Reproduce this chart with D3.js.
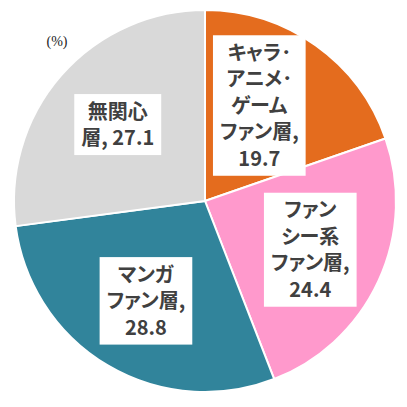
<!DOCTYPE html>
<html>
<head>
<meta charset="utf-8">
<script src="https://cdn.jsdelivr.net/npm/d3@7"></script>
<style>
  html, body { margin: 0; padding: 0; background: #fff; }
  svg { display: block; }
  .lbl { font-feature-settings: "palt" 1; }
</style>
</head>
<body>
<svg id="chart" width="407" height="407"></svg>
<script>
// ---- data ----
const categories = ["キャラ・アニメ・ゲームファン層", "ファンシー系ファン層", "マンガファン層", "無関心層"];
const values = [19.7, 24.4, 28.8, 27.1];
const colors = ["#E46C1E", "#FF99CC", "#31849B", "#D9D9D9"];
// label lines (category name wrapped as in the reference); value appended after
const labelLines = [
  ["キャラ･", "アニメ･", "ゲーム", "ファン層,"],
  ["ファン", "シー系", "ファン層,"],
  ["マンガ", "ファン層,"],
  ["無関心", "層,"]
];
const valueOnSameLine = [false, false, false, true];
const unitLabel = "(%)";

// ---- layout ----
const cx = 205, cy = 201, R = 191;
const svg = d3.select("#chart");
const g = svg.append("g").attr("transform", `translate(${cx},${cy})`);

const pie = d3.pie().sort(null).value(d => d.value);
const data = categories.map((c, i) => ({ name: c, value: values[i], i }));
const arcs = pie(data);
const arc = d3.arc().innerRadius(0).outerRadius(R);
const labelArc = d3.arc().innerRadius(116).outerRadius(116);

g.selectAll("path.slice")
  .data(arcs)
  .enter().append("path")
  .attr("class", "slice")
  .attr("d", arc)
  .attr("fill", d => colors[d.data.i])
  .attr("stroke", "#fff")
  .attr("stroke-width", 2)
  .attr("stroke-linejoin", "round");

// label nudges (layout only)
const nudge = [[-13, -1], [0, 0], [0, 0], [0, 0]];
const lineH = 26.5, fs = 20, padX = 7, padY = 4;

arcs.forEach(a => {
  const i = a.data.i;
  const [x0, y0] = labelArc.centroid(a);
  const x = x0 + nudge[i][0], y = y0 + nudge[i][1];
  const lines = labelLines[i].slice();
  if (valueOnSameLine[i]) lines[lines.length - 1] += " " + values[i].toFixed(1);
  else lines.push(values[i].toFixed(1));

  const lg = g.append("g").attr("transform", `translate(${x},${y})`);
  const rect = lg.append("rect").attr("fill", "#fff");
  const n = lines.length;
  const txt = lg.append("text")
    .attr("class", "lbl")
    .attr("text-anchor", "middle")
    .attr("font-family", "'Noto Sans CJK JP', 'Noto Sans', sans-serif")
    .attr("font-weight", "bold")
    .attr("font-size", fs)
    .attr("fill", "#404040");
  lines.forEach((l, k) => {
    txt.append("tspan")
      .attr("x", 0)
      .attr("y", (k - (n - 1) / 2) * lineH)
      .attr("dy", "0.36em")
      .text(l);
  });
  let maxW = 0;
  txt.selectAll("tspan").each(function() { maxW = Math.max(maxW, this.getComputedTextLength()); });
  const bw = maxW + 2 * padX, bh = n * lineH + 2 * padY;
  rect.attr("x", -bw / 2).attr("y", -bh / 2).attr("width", bw).attr("height", bh);
});

svg.append("text")
  .attr("x", 57).attr("y", 46)
  .attr("text-anchor", "middle")
  .attr("font-family", "'Liberation Serif', serif")
  .attr("font-size", 14)
  .attr("fill", "#222")
  .text(unitLabel);
</script>
</body>
</html>
